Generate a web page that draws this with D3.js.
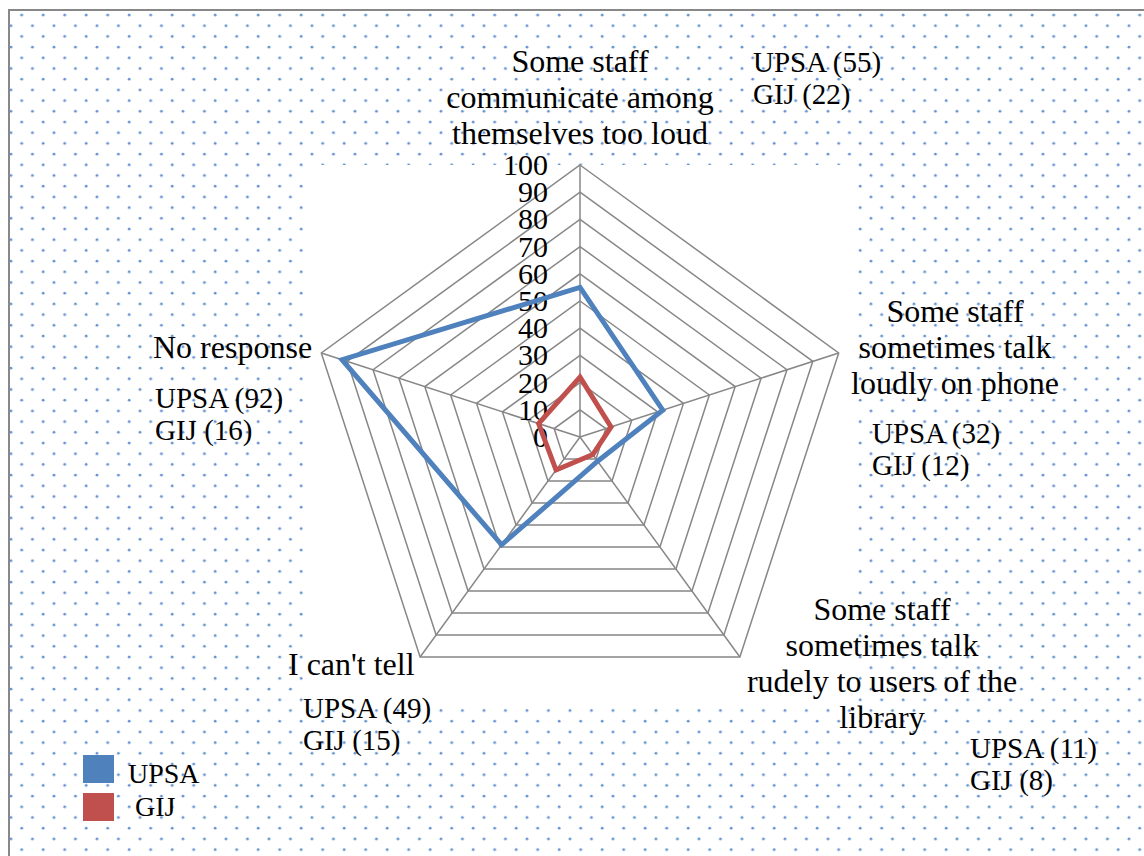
<!DOCTYPE html>
<html>
<head>
<meta charset="utf-8">
<script src="https://cdn.jsdelivr.net/npm/d3@7"></script>
</head>
<body style="margin:0">
<div id="chart"></div>
<script>
// data
var categories = [
  ["Some staff", "communicate among", "themselves too loud"],
  ["Some staff", "sometimes talk", "loudly on phone"],
  ["Some staff", "sometimes talk", "rudely to users of the", "library"],
  ["I can't tell"],
  ["No response"]
];
var seriesNames = ["UPSA", "GIJ"];
var upsa = [55, 32, 11, 49, 92];
var gij = [22, 12, 8, 15, 16];
var ticks = [0, 10, 20, 30, 40, 50, 60, 70, 80, 90, 100];
var colors = ["#4f81bd", "#c0504d"];

var font = "'Liberation Serif', Tinos, 'Times New Roman', serif";
var W = 1144, H = 856;
var cx = 580, cy = 437, R = 272;

var svg = d3.select("#chart").append("svg")
    .attr("width", W)
    .attr("height", H)
    .style("font-family", font);

// dotted background
var defs = svg.append("defs");
var pat = defs.append("pattern")
    .attr("id", "dots")
    .attr("patternUnits", "userSpaceOnUse")
    .attr("x", 16.7).attr("y", 10)
    .attr("width", 21.5).attr("height", 21.4);
pat.append("circle").attr("cx", 5).attr("cy", 5).attr("r", 1.4).attr("fill", "#6391d0");
pat.append("circle").attr("cx", 15.75).attr("cy", 15.7).attr("r", 1.4).attr("fill", "#6391d0");

svg.append("rect")
    .attr("x", 9).attr("y", 10)
    .attr("width", W + 20).attr("height", H + 20)
    .attr("fill", "url(#dots)")
    .attr("stroke", "#888")
    .attr("stroke-width", 2);

// plot area
svg.append("rect")
    .attr("x", 305).attr("y", 165)
    .attr("width", 553).attr("height", 543)
    .attr("fill", "#fff");

var r = d3.scaleLinear().domain([0, 100]).range([0, R]);
var angle = d3.scaleLinear().domain([0, categories.length]).range([0, 2 * Math.PI]);

function pt(i, v) {
  var a = angle(i);
  return [cx + r(v) * Math.sin(a), cy - r(v) * Math.cos(a)];
}

var g = svg.append("g");

// grid polygons
ticks.slice(1).forEach(function(t) {
  var pts = categories.map(function(c, i) { return pt(i, t); });
  g.append("path")
    .attr("d", d3.line()(pts) + "Z")
    .attr("fill", "none")
    .attr("stroke", "#878787")
    .attr("stroke-width", 1.5);
});

// spokes
categories.forEach(function(c, i) {
  var p = pt(i, 100);
  g.append("line")
    .attr("x1", cx).attr("y1", cy)
    .attr("x2", p[0]).attr("y2", p[1])
    .attr("stroke", "#878787")
    .attr("stroke-width", 1.5);
});

// tick labels
g.selectAll(".tick").data(ticks).enter().append("text")
    .attr("class", "tick")
    .attr("x", cx - 32)
    .attr("y", function(d) { return cy - r(d); })
    .attr("dy", "0.33em")
    .attr("text-anchor", "end")
    .style("font-family", font)
    .style("font-size", "30px")
    .text(function(d) { return d; });

// series
[upsa, gij].forEach(function(vals, s) {
  var pts = vals.map(function(v, i) { return pt(i, v); });
  g.append("path")
    .attr("d", d3.line()(pts) + "Z")
    .attr("fill", "none")
    .attr("stroke", colors[s])
    .attr("stroke-width", 5);
});

// category labels and value notes
var labelPos = [
  {x: 580, y: 72, anchor: "middle", vx: 753, vy: 72},
  {x: 955, y: 322, anchor: "middle", vx: 872, vy: 443},
  {x: 882, y: 620, anchor: "middle", vx: 970, vy: 758},
  {x: 288, y: 675, anchor: "start", vx: 303, vy: 718},
  {x: 153, y: 358, anchor: "start", vx: 155, vy: 408}
];

categories.forEach(function(lines, i) {
  var lp = labelPos[i];
  var t = svg.append("text")
    .attr("x", lp.x).attr("y", lp.y)
    .attr("text-anchor", lp.anchor)
    .style("font-family", font)
    .style("font-size", "32px");
  lines.forEach(function(line, k) {
    t.append("tspan")
      .attr("x", lp.x)
      .attr("dy", k == 0 ? 0 : 36)
      .text(line);
  });
  var v = svg.append("text")
    .attr("x", lp.vx).attr("y", lp.vy)
    .style("font-family", font)
    .style("font-size", "29px");
  v.append("tspan").attr("x", lp.vx).text("UPSA (" + upsa[i] + ")");
  v.append("tspan").attr("x", lp.vx).attr("dy", 32).text("GIJ (" + gij[i] + ")");
});

// legend
seriesNames.forEach(function(name, s) {
  svg.append("rect")
    .attr("x", 83).attr("y", 755 + s * 38)
    .attr("width", 31).attr("height", 28)
    .attr("fill", colors[s]);
  svg.append("text")
    .attr("x", s == 0 ? 128 : 135)
    .attr("y", 783 + s * 33)
    .style("font-family", font)
    .style("font-size", "28px")
    .text(name);
});
</script>
</body>
</html>
